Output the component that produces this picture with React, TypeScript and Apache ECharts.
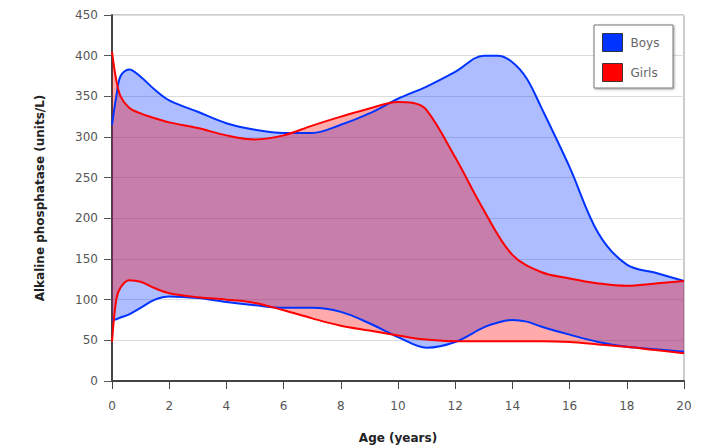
import React, { useEffect, useRef } from "react";
import * as echarts from "echarts";

const boysAges = [0, 0.15, 0.3, 0.6, 1, 1.5, 2, 3, 4, 5, 6, 7, 8, 9, 10, 11, 12, 13, 13.5, 14, 14.5, 15, 16, 17, 18, 19, 20];
const boysUpper = [315, 350, 375, 383, 374, 358, 345, 331, 317, 309, 305, 305, 315, 329, 347, 362, 380, 400, 400, 392, 372, 337, 263, 182, 143, 133, 123];
const boysLower = [75, 76, 78, 82, 90, 100, 104, 102, 97, 93, 90, 90, 85, 71, 54, 41, 48, 66, 72, 75, 73, 67, 57, 48, 42, 39, 36];

const girlsAges = [0, 0.15, 0.3, 0.6, 1, 1.5, 2, 3, 4, 5, 6, 7, 8, 9, 10, 10.5, 11, 12, 13, 14, 15, 16, 17, 18, 19, 20];
const girlsUpper = [405, 370, 350, 336, 329, 323, 318, 311, 302, 297, 302, 314, 325, 335, 343, 342, 333, 275, 210, 155, 134, 126, 120, 117, 120, 123];
const girlsLower = [48, 100, 115, 124, 122, 114, 108, 103, 100, 96, 87, 77, 68, 62, 56, 53, 51, 49, 49, 49, 49, 48, 45, 42, 38, 34];

const xTicks = { min: 0, max: 20, interval: 2 };
const yTicks = { min: 0, max: 450, interval: 50 };

const BLUE = "#0033ff";
const RED = "#ff0000";

// value first, age second (so the value dimension is the stacked one)
function pairs(xs: number[], ys: number[]) {
  return xs.map((x, i) => [ys[i], x]);
}
function bandPairs(xs: number[], lo: number[], hi: number[]) {
  return xs.map((x, i) => [hi[i] - lo[i], x]);
}

export default function App() {
  const ref = useRef<HTMLDivElement>(null);
  useEffect(() => {
    if (!ref.current) return;
    const chart = echarts.init(ref.current, null, { renderer: "svg" });
    const font = "DejaVu Sans";
    const smooth = 0.35;
    const enc = { x: 1, y: 0 };
    chart.setOption({
      animation: false,
      textStyle: { fontFamily: font },
      grid: {
        left: 112,
        top: 15,
        right: 25,
        bottom: 65,
        outerBoundsMode: "none",
        containLabel: false,
        show: true,
        borderColor: "#9a9a9a",
        borderWidth: 1,
        backgroundColor: "transparent",
      },
      legend: {
        orient: "vertical",
        left: 602,
        top: 33,
        padding: 0,
        itemWidth: 20,
        itemHeight: 18,
        itemGap: 11,
        icon: "rect",
        z: 8,
        textStyle: { fontFamily: font, fontSize: 12, color: "#666", padding: [0, 0, 0, 3] },
        data: [
          { name: "Boys", itemStyle: { color: BLUE, borderColor: "#334", borderWidth: 1 } },
          { name: "Girls", itemStyle: { color: RED, borderColor: "#433", borderWidth: 1 } },
        ],
      },
      graphic: [
        {
          type: "rect",
          shape: { x: 594, y: 25, width: 79, height: 63 },
          style: {
            fill: "#fff",
            stroke: "#777",
            lineWidth: 1,
            shadowBlur: 2,
            shadowOffsetX: 1,
            shadowOffsetY: 1,
            shadowColor: "rgba(0,0,0,0.35)",
          },
          z: 5,
        },
      ],
      xAxis: {
        type: "value",
        min: xTicks.min,
        max: xTicks.max,
        interval: xTicks.interval,
        name: "Age (years)",
        nameLocation: "middle",
        nameGap: 51,
        nameTextStyle: { fontFamily: font, fontSize: 12, fontWeight: "bold", color: "#222" },
        axisLine: { show: true, onZero: false, lineStyle: { color: "#444", width: 2 } },
        axisTick: { show: true, length: 8, lineStyle: { color: "#444", width: 1 } },
        axisLabel: { margin: 19, fontSize: 12, color: "#555", fontFamily: font },
        splitLine: { show: false },
      },
      yAxis: {
        type: "value",
        min: yTicks.min,
        max: yTicks.max,
        interval: yTicks.interval,
        name: "Alkaline phosphatase (units/L)",
        nameLocation: "middle",
        nameGap: 66,
        nameTextStyle: { fontFamily: font, fontSize: 12, fontWeight: "bold", color: "#222" },
        axisLine: { show: true, lineStyle: { color: "#444", width: 2 } },
        axisTick: { show: true, length: 8, lineStyle: { color: "#555", width: 1 } },
        axisLabel: { margin: 14, fontSize: 12, color: "#555", fontFamily: font },
        splitLine: { show: true, lineStyle: { color: "#dcdcdc", width: 1 } },
      },
      series: [
        {
          name: "Boys lower",
          type: "line",
          stack: "boys",
          encode: enc,
          data: pairs(boysAges, boysLower),
          smooth,
          symbol: "none",
          lineStyle: { color: BLUE, width: 2 },
          itemStyle: { color: BLUE },
        },
        {
          name: "Boys",
          type: "line",
          stack: "boys",
          encode: enc,
          data: bandPairs(boysAges, boysLower, boysUpper),
          smooth,
          symbol: "none",
          lineStyle: { color: BLUE, width: 2 },
          itemStyle: { color: BLUE },
          areaStyle: { color: "rgba(0,51,255,0.32)", opacity: 1 },
        },
        {
          name: "Girls lower",
          type: "line",
          stack: "girls",
          encode: enc,
          data: pairs(girlsAges, girlsLower),
          smooth,
          symbol: "none",
          lineStyle: { color: RED, width: 2 },
          itemStyle: { color: RED },
        },
        {
          name: "Girls",
          type: "line",
          stack: "girls",
          encode: enc,
          data: bandPairs(girlsAges, girlsLower, girlsUpper),
          smooth,
          symbol: "none",
          lineStyle: { color: RED, width: 2 },
          itemStyle: { color: RED },
          areaStyle: { color: "rgba(255,0,0,0.33)", opacity: 1 },
        },
      ],
    });
    return () => chart.dispose();
  }, []);
  return <div ref={ref} style={{ width: 709, height: 446, position: "absolute", left: 0, top: 0 }} />;
}
